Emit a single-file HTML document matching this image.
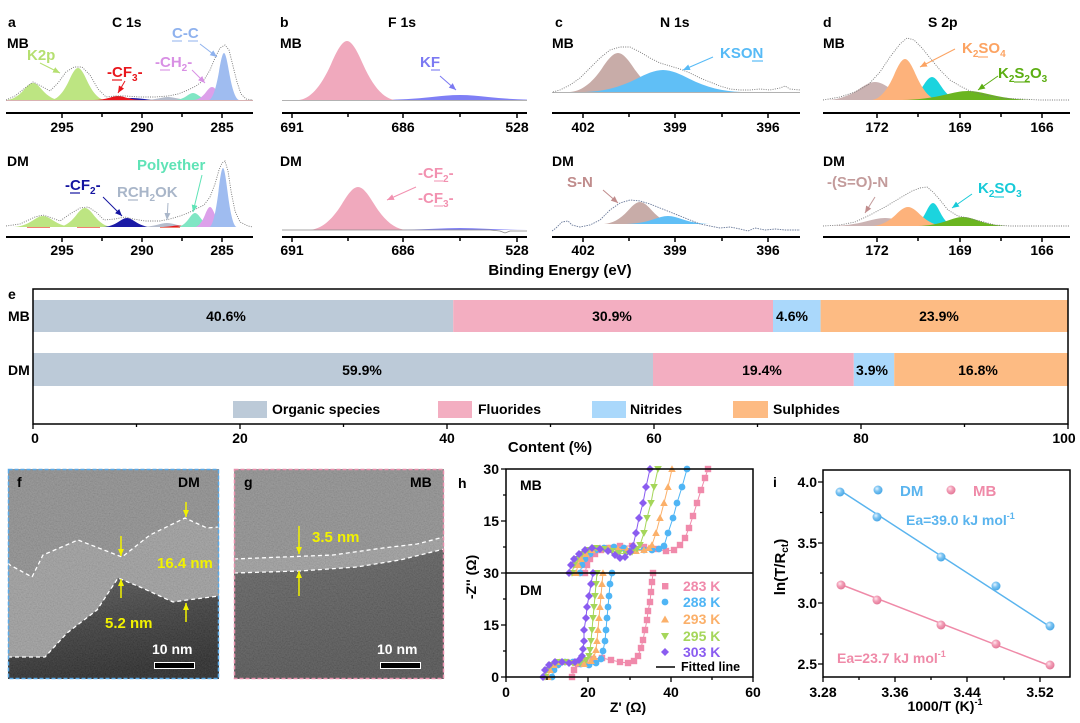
<!DOCTYPE html>
<html><head><meta charset="utf-8"><style>html,body{margin:0;padding:0;background:#fff}svg{display:block}</style></head><body>
<svg xmlns="http://www.w3.org/2000/svg" width="1080" height="723" viewBox="0 0 1080 723" font-family="'Liberation Sans', Arial, sans-serif" font-weight="bold">
<defs>
<path id="g" d="M-3,0 C-2.333,-0.022 -1.667,-0.202 -1,-0.6065 C-0.667,-0.809 -0.333,-1 0,-1 C0.333,-1 0.667,-0.809 1,-0.6065 C1.667,-0.202 2.333,-0.022 3,0 Z"/>
<clipPath id="ca"><rect x="6" y="0" width="247" height="240"/></clipPath>
<clipPath id="cb"><rect x="282" y="0" width="245" height="240"/></clipPath>
<clipPath id="cc"><rect x="552" y="0" width="248" height="240"/></clipPath>
<clipPath id="cd"><rect x="823" y="0" width="247" height="240"/></clipPath>
<clipPath id="cf"><rect x="8" y="469" width="211" height="210"/></clipPath>
<clipPath id="cg"><rect x="234" y="469" width="210" height="210"/></clipPath>
<filter id="nz" x="0" y="0" width="1" height="1"><feTurbulence type="fractalNoise" baseFrequency="0.75" numOctaves="2" seed="7"/><feColorMatrix type="matrix" values="1 0 0 0 0 1 0 0 0 0 1 0 0 0 0 0 0 0 0 0.18"/></filter>
<linearGradient id="darkf" x1="0" y1="0" x2="0.3" y2="1"><stop offset="0" stop-color="#505050"/><stop offset="0.5" stop-color="#333"/><stop offset="1" stop-color="#1e1e1e"/></linearGradient>
<linearGradient id="darkg" x1="0" y1="0" x2="0.4" y2="1"><stop offset="0" stop-color="#5c5c5c"/><stop offset="1" stop-color="#4a4a4a"/></linearGradient>
<radialGradient id="gb" cx="0.38" cy="0.35" r="0.65"><stop offset="0" stop-color="#e6f4ff"/><stop offset="0.45" stop-color="#7cc4f2"/><stop offset="1" stop-color="#4aa8e6"/></radialGradient>
<radialGradient id="gp" cx="0.38" cy="0.35" r="0.65"><stop offset="0" stop-color="#ffe6ee"/><stop offset="0.45" stop-color="#f2a0b8"/><stop offset="1" stop-color="#e47898"/></radialGradient>
<marker id="aK" markerWidth="8" markerHeight="8" refX="7" refY="4" orient="auto" markerUnits="userSpaceOnUse"><path d="M0,1 L7,4 L0,7 Z" fill="#b5df70"/></marker>
<marker id="aR" markerWidth="8" markerHeight="8" refX="7" refY="4" orient="auto" markerUnits="userSpaceOnUse"><path d="M0,1 L7,4 L0,7 Z" fill="#e8161c"/></marker>
<marker id="aP" markerWidth="8" markerHeight="8" refX="7" refY="4" orient="auto" markerUnits="userSpaceOnUse"><path d="M0,1 L7,4 L0,7 Z" fill="#d890e4"/></marker>
<marker id="aB" markerWidth="8" markerHeight="8" refX="7" refY="4" orient="auto" markerUnits="userSpaceOnUse"><path d="M0,1 L7,4 L0,7 Z" fill="#8fb2ee"/></marker>
<marker id="aN" markerWidth="8" markerHeight="8" refX="7" refY="4" orient="auto" markerUnits="userSpaceOnUse"><path d="M0,1 L7,4 L0,7 Z" fill="#1414a0"/></marker>
<marker id="aGr" markerWidth="8" markerHeight="8" refX="7" refY="4" orient="auto" markerUnits="userSpaceOnUse"><path d="M0,1 L7,4 L0,7 Z" fill="#a9b6c9"/></marker>
<marker id="aT" markerWidth="8" markerHeight="8" refX="7" refY="4" orient="auto" markerUnits="userSpaceOnUse"><path d="M0,1 L7,4 L0,7 Z" fill="#5fe3b6"/></marker>
<marker id="aV" markerWidth="8" markerHeight="8" refX="7" refY="4" orient="auto" markerUnits="userSpaceOnUse"><path d="M0,1 L7,4 L0,7 Z" fill="#7b79f2"/></marker>
<marker id="aPk" markerWidth="8" markerHeight="8" refX="7" refY="4" orient="auto" markerUnits="userSpaceOnUse"><path d="M0,1 L7,4 L0,7 Z" fill="#f291b0"/></marker>
<marker id="aS" markerWidth="8" markerHeight="8" refX="7" refY="4" orient="auto" markerUnits="userSpaceOnUse"><path d="M0,1 L7,4 L0,7 Z" fill="#56baf6"/></marker>
<marker id="aBr" markerWidth="8" markerHeight="8" refX="7" refY="4" orient="auto" markerUnits="userSpaceOnUse"><path d="M0,1 L7,4 L0,7 Z" fill="#c08c8c"/></marker>
<marker id="aO" markerWidth="8" markerHeight="8" refX="7" refY="4" orient="auto" markerUnits="userSpaceOnUse"><path d="M0,1 L7,4 L0,7 Z" fill="#fca362"/></marker>
<marker id="aGn" markerWidth="8" markerHeight="8" refX="7" refY="4" orient="auto" markerUnits="userSpaceOnUse"><path d="M0,1 L7,4 L0,7 Z" fill="#5cae12"/></marker>
<marker id="aC" markerWidth="8" markerHeight="8" refX="7" refY="4" orient="auto" markerUnits="userSpaceOnUse"><path d="M0,1 L7,4 L0,7 Z" fill="#17cad8"/></marker>
<marker id="aY" markerWidth="8" markerHeight="8" refX="7" refY="4" orient="auto" markerUnits="userSpaceOnUse"><path d="M0,1 L7,4 L0,7 Z" fill="#f2f200"/></marker>
<marker id="ms" markerWidth="8" markerHeight="8" refX="4" refY="4" markerUnits="userSpaceOnUse"><rect x="0.8" y="0.8" width="6.4" height="6.4" fill="#f08aab"/></marker>
<marker id="mc" markerWidth="8" markerHeight="8" refX="4" refY="4" markerUnits="userSpaceOnUse"><circle cx="4" cy="4" r="3.4" fill="#4fb5f5"/></marker>
<marker id="mt" markerWidth="8" markerHeight="8" refX="4" refY="4" markerUnits="userSpaceOnUse"><polygon points="4,0.3 7.8,7 0.2,7" fill="#fbb06a"/></marker>
<marker id="md" markerWidth="8" markerHeight="8" refX="4" refY="4" markerUnits="userSpaceOnUse"><polygon points="0.2,1 7.8,1 4,7.7" fill="#a5d65a"/></marker>
<marker id="mdi" markerWidth="8" markerHeight="8" refX="4" refY="4" markerUnits="userSpaceOnUse"><polygon points="4,0 8,4 4,8 0,4" fill="#8a5cf0"/></marker>
</defs>
<rect width="1080" height="723" fill="#fff"/>

<!-- ===== Panel a ===== -->
<g clip-path="url(#ca)">
<use href="#g" transform="translate(33,100) scale(9,17)" fill="#bde582"/>
<use href="#g" transform="translate(78,100) scale(9,32)" fill="#bde582"/>
<use href="#g" transform="translate(132,100) scale(10,2)" fill="#1a1aa6"/>
<use href="#g" transform="translate(118,100) scale(8,4)" fill="#e8161c"/>
<use href="#g" transform="translate(168,100) scale(8,3)" fill="#b4bccc"/>
<use href="#g" transform="translate(193,100) scale(6,7)" fill="#80e6c4"/>
<use href="#g" transform="translate(212,100) scale(6,13)" fill="#dca0ea"/>
<use href="#g" transform="translate(224,100) scale(5,47)" fill="#9fbcf0"/>
<line x1="6" y1="100.5" x2="253" y2="100.5" stroke="#c99" stroke-width="0.8"/>
<polyline points="6,100 15,96 25,88 33,82 41,86 50,91 58,83 66,72 74,67 82,67 90,75 98,89 106,97 115,96 125,96 140,97 155,97 168,96 178,94 188,90 196,86 204,80 210,70 215,58 220,48 225,45 229,50 233,66 237,82 241,94 246,99 253,100" fill="none" stroke="#777" stroke-width="0.9" stroke-dasharray="1 1.3"/>

<use href="#g" transform="translate(43,227) scale(10,11)" fill="#bde582"/>
<use href="#g" transform="translate(85,227) scale(9,19)" fill="#bde582"/>
<use href="#g" transform="translate(127,227) scale(8,9)" fill="#1a1aa6"/>
<use href="#g" transform="translate(167,227) scale(9,4)" fill="#b4bccc"/>
<use href="#g" transform="translate(178,227) scale(6,1.5)" fill="#e8161c"/>
<use href="#g" transform="translate(195,227) scale(6,14)" fill="#80e6c4"/>
<use href="#g" transform="translate(210,227) scale(5,20)" fill="#dca0ea"/>
<use href="#g" transform="translate(223,227) scale(4.5,59)" fill="#9fbcf0"/>
<path d="M27,227.5H50M77,227.5H100M160,227.5H180" stroke="#f08070" stroke-width="1"/>
<polyline points="6,226 20,224 35,217 43,215 52,218 60,221 70,214 80,208 88,207 96,212 104,220 115,219 125,217 133,219 145,221 160,221 170,219 180,216 188,213 196,209 204,205 210,197 215,184 219,170 222,163 225,161 228,171 231,191 235,211 240,222 248,226 253,227" fill="none" stroke="#777" stroke-width="0.9" stroke-dasharray="1 1.3"/>
</g>
<text x="8" y="27" font-size="14">a</text>
<text x="112" y="27" font-size="14">C 1s</text>
<text x="7" y="48" font-size="14">MB</text>
<text x="7" y="166" font-size="14">DM</text>
<line x1="6" y1="113" x2="253" y2="113" stroke="#000" stroke-width="2"/>
<path d="M62,113v5M102,113v4M142,113v5M182,113v4M222,113v5" stroke="#000" stroke-width="1.5"/>
<line x1="6" y1="237" x2="253" y2="237" stroke="#000" stroke-width="2"/>
<path d="M62,237v5M102,237v4M142,237v5M182,237v4M222,237v5" stroke="#000" stroke-width="1.5"/>
<g font-size="14" text-anchor="middle"><text x="62" y="132">295</text><text x="142" y="132">290</text><text x="222" y="132">285</text>
<text x="62" y="255">295</text><text x="142" y="255">290</text><text x="222" y="255">285</text></g>
<!-- labels a -->
<text x="27" y="60" font-size="15" fill="#b5df70">K2p</text>
<line x1="40" y1="63" x2="60" y2="73" stroke="#b5df70" stroke-width="1" marker-end="url(#aK)"/>
<text x="107" y="77" font-size="15" fill="#e8161c">-CF<tspan font-size="10" dy="4">3</tspan><tspan dy="-4">-</tspan></text>
<line x1="112" y1="80" x2="122" y2="80" stroke="#e8161c" stroke-width="1.2"/>
<line x1="125" y1="81" x2="118" y2="93" stroke="#e8161c" stroke-width="1" marker-end="url(#aR)"/>
<text x="155" y="67" font-size="15" fill="#d890e4">-CH<tspan font-size="10" dy="4">2</tspan><tspan dy="-4">-</tspan></text>
<line x1="160" y1="70" x2="170" y2="70" stroke="#d890e4" stroke-width="1.1"/>
<line x1="192" y1="70" x2="205" y2="83" stroke="#d890e4" stroke-width="1" marker-end="url(#aP)"/>
<text x="172" y="38" font-size="15" fill="#8fb2ee">C-C</text>
<path d="M172,41H182M188,41H198" stroke="#8fb2ee" stroke-width="1.1"/>
<line x1="200" y1="44" x2="217" y2="57" stroke="#8fb2ee" stroke-width="1" marker-end="url(#aB)"/>
<text x="65" y="190" font-size="15" fill="#1414a0">-CF<tspan font-size="10" dy="4">2</tspan><tspan dy="-4">-</tspan></text>
<line x1="70" y1="193" x2="80" y2="193" stroke="#1414a0" stroke-width="1.2"/>
<line x1="103" y1="197" x2="122" y2="216" stroke="#1414a0" stroke-width="1" marker-end="url(#aN)"/>
<text x="117" y="197" font-size="15" fill="#a9b6c9">RCH<tspan font-size="10" dy="4">2</tspan><tspan dy="-4">OK</tspan></text>
<line x1="128" y1="200" x2="138" y2="200" stroke="#a9b6c9" stroke-width="1.2"/>
<line x1="168" y1="203" x2="167" y2="220" stroke="#a9b6c9" stroke-width="1" marker-end="url(#aGr)"/>
<text x="137" y="170" font-size="15" fill="#5fe3b6">Polyether</text>
<line x1="202" y1="175" x2="193" y2="212" stroke="#5fe3b6" stroke-width="1" marker-end="url(#aT)"/>

<!-- ===== Panel b ===== -->
<g clip-path="url(#cb)">
<use href="#g" transform="translate(460,100) scale(28,5)" fill="#7f7ff5"/>
<use href="#g" transform="translate(347,100) scale(16,59)" fill="#f0a9bd"/>
<line x1="282" y1="100.5" x2="527" y2="100.5" stroke="#999" stroke-width="0.8"/>
<use href="#g" transform="translate(460,230) scale(25,2)" fill="#7f7ff5"/>
<use href="#g" transform="translate(358,230) scale(16,43)" fill="#f0a9bd"/>
<polyline points="282,230 490,230 500,231 505,233 510,231 527,231" fill="none" stroke="#888" stroke-width="0.8"/>
</g>
<text x="280" y="27" font-size="14">b</text>
<text x="388" y="27" font-size="14">F 1s</text>
<text x="280" y="48" font-size="14">MB</text>
<text x="280" y="166" font-size="14">DM</text>
<line x1="282" y1="113" x2="527" y2="113" stroke="#000" stroke-width="2"/>
<path d="M292,113v5M348,113v4M403,113v5M460,113v4M517,113v5" stroke="#000" stroke-width="1.5"/>
<line x1="282" y1="237" x2="527" y2="237" stroke="#000" stroke-width="2"/>
<path d="M292,237v5M348,237v4M403,237v5M460,237v4M517,237v5" stroke="#000" stroke-width="1.5"/>
<g font-size="14" text-anchor="middle"><text x="292" y="132">691</text><text x="403" y="132">686</text><text x="517" y="132">528</text>
<text x="292" y="255">691</text><text x="403" y="255">686</text><text x="517" y="255">528</text></g>
<text x="420" y="67" font-size="15" fill="#7b79f2">KF</text>
<line x1="431" y1="70" x2="440" y2="70" stroke="#7b79f2" stroke-width="1.1"/>
<line x1="440" y1="76" x2="456" y2="90" stroke="#7b79f2" stroke-width="1" marker-end="url(#aV)"/>
<text x="418" y="178" font-size="15" fill="#f291b0">-CF<tspan font-size="10" dy="4">2</tspan><tspan dy="-4">-</tspan></text>
<text x="418" y="203" font-size="15" fill="#f291b0">-CF<tspan font-size="10" dy="4">3</tspan><tspan dy="-4">-</tspan></text>
<path d="M434,181H443M434,206H443" stroke="#f291b0" stroke-width="1.1"/>
<line x1="416" y1="187" x2="387" y2="200" stroke="#f291b0" stroke-width="1" marker-end="url(#aPk)"/>

<!-- ===== Panel c ===== -->
<g clip-path="url(#cc)">
<use href="#g" transform="translate(618,92) scale(16,39)" fill="#c8aca8"/>
<use href="#g" transform="translate(663,92) scale(26,22)" fill="#60bff6"/>
<line x1="552" y1="92.5" x2="800" y2="92.5" stroke="#999" stroke-width="0.8"/>
<polyline points="553,92 560,90 570,85 580,78 590,68 600,58 610,50 620,47 630,47 640,52 650,58 660,63 670,66 680,69 690,73 700,78 710,82 720,86 730,89 740,90 750,90 760,89 770,90 780,88 785,86 790,89 800,90" fill="none" stroke="#777" stroke-width="0.9" stroke-dasharray="1 1.3"/>
<use href="#g" transform="translate(640,224) scale(12,22)" fill="#c8aca8"/>
<use href="#g" transform="translate(668,224) scale(14,8)" fill="#60bff6"/>
<polyline points="552,231 556,228 562,222 568,221 572,225 580,227 590,225 600,220 610,210 620,203 630,200 640,201 650,204 660,208 670,212 680,216 690,220 700,224 710,226 720,228 730,227 740,229 748,231 755,228 765,230 775,229 785,230 800,230" fill="none" stroke="#6a7a9a" stroke-width="0.9" stroke-dasharray="1.5 1"/>
</g>
<text x="555" y="27" font-size="14">c</text>
<text x="660" y="27" font-size="14">N 1s</text>
<text x="552" y="48" font-size="14">MB</text>
<text x="552" y="166" font-size="14">DM</text>
<line x1="552" y1="113" x2="800" y2="113" stroke="#000" stroke-width="2"/>
<path d="M583,113v5M629,113v4M675,113v5M722,113v4M768,113v5" stroke="#000" stroke-width="1.5"/>
<line x1="552" y1="237" x2="800" y2="237" stroke="#000" stroke-width="2"/>
<path d="M583,237v5M629,237v4M675,237v5M722,237v4M768,237v5" stroke="#000" stroke-width="1.5"/>
<g font-size="14" text-anchor="middle"><text x="583" y="132">402</text><text x="675" y="132">399</text><text x="768" y="132">396</text>
<text x="583" y="255">402</text><text x="675" y="255">399</text><text x="768" y="255">396</text></g>
<text x="720" y="58" font-size="15" fill="#56baf6">KSON</text>
<line x1="752" y1="61" x2="763" y2="61" stroke="#56baf6" stroke-width="1.2"/>
<line x1="713" y1="57" x2="683" y2="70" stroke="#56baf6" stroke-width="1" marker-end="url(#aS)"/>
<text x="567" y="187" font-size="15" fill="#c08c8c">S-N</text>
<line x1="603" y1="190" x2="618" y2="203" stroke="#c08c8c" stroke-width="1" marker-end="url(#aBr)"/>

<!-- ===== Panel d ===== -->
<g clip-path="url(#cd)">
<use href="#g" transform="translate(875,100) scale(16,18)" fill="#cbb3b3"/>
<use href="#g" transform="translate(932,100) scale(9,23)" fill="#1bd4de"/>
<use href="#g" transform="translate(905,100) scale(11,41)" fill="#fdb27b"/>
<use href="#g" transform="translate(968,100) scale(22,9)" fill="#6ab520"/>
<polyline points="823,100 840,97 855,92 868,85 880,72 890,57 900,44 907,38 914,40 922,48 930,58 940,70 950,80 960,86 970,91 985,95 1000,98 1020,99 1040,100 1070,100" fill="none" stroke="#777" stroke-width="0.9" stroke-dasharray="1 1.3"/>
<use href="#g" transform="translate(885,226) scale(18,8)" fill="#cbb3b3"/>
<use href="#g" transform="translate(933,226) scale(7,23)" fill="#1bd4de"/>
<use href="#g" transform="translate(908,226) scale(12,19)" fill="#fdb27b"/>
<use href="#g" transform="translate(963,226) scale(15,9)" fill="#6ab520"/>
<polyline points="823,226 840,225 855,222 870,215 885,207 900,198 912,191 920,188 927,187 933,192 940,200 948,210 958,216 968,218 980,221 995,225 1010,226 1040,226 1070,226" fill="none" stroke="#777" stroke-width="0.9" stroke-dasharray="1 1.3"/>
</g>
<text x="823" y="27" font-size="14">d</text>
<text x="928" y="27" font-size="14">S 2p</text>
<text x="823" y="48" font-size="14">MB</text>
<text x="823" y="166" font-size="14">DM</text>
<line x1="823" y1="113" x2="1070" y2="113" stroke="#000" stroke-width="2"/>
<path d="M877,113v5M918,113v4M960,113v5M1001,113v4M1042,113v5" stroke="#000" stroke-width="1.5"/>
<line x1="823" y1="237" x2="1070" y2="237" stroke="#000" stroke-width="2"/>
<path d="M877,237v5M918,237v4M960,237v5M1001,237v4M1042,237v5" stroke="#000" stroke-width="1.5"/>
<g font-size="14" text-anchor="middle"><text x="877" y="132">172</text><text x="960" y="132">169</text><text x="1042" y="132">166</text>
<text x="877" y="255">172</text><text x="960" y="255">169</text><text x="1042" y="255">166</text></g>
<text x="962" y="53" font-size="15" fill="#fca362">K<tspan font-size="10" dy="4">2</tspan><tspan dy="-4">SO</tspan><tspan font-size="10" dy="4">4</tspan></text>
<line x1="978" y1="57" x2="988" y2="57" stroke="#fca362" stroke-width="1.1"/>
<line x1="955" y1="49" x2="920" y2="67" stroke="#fca362" stroke-width="1" marker-end="url(#aO)"/>
<text x="998" y="78" font-size="15" fill="#5cae12">K<tspan font-size="10" dy="4">2</tspan><tspan dy="-4">S</tspan><tspan font-size="10" dy="4">2</tspan><tspan dy="-4">O</tspan><tspan font-size="10" dy="4">3</tspan></text>
<line x1="1014" y1="82" x2="1030" y2="82" stroke="#5cae12" stroke-width="1.1"/>
<line x1="998" y1="76" x2="978" y2="90" stroke="#5cae12" stroke-width="1" marker-end="url(#aGn)"/>
<text x="827" y="187" font-size="15" fill="#c39b9b">-(S=O)-N</text>
<line x1="875" y1="197" x2="865" y2="213" stroke="#c39b9b" stroke-width="1" marker-end="url(#aBr)"/>
<text x="978" y="193" font-size="15" fill="#17cad8">K<tspan font-size="10" dy="4">2</tspan><tspan dy="-4">SO</tspan><tspan font-size="10" dy="4">3</tspan></text>
<line x1="994" y1="197" x2="1004" y2="197" stroke="#17cad8" stroke-width="1.1"/>
<line x1="972" y1="194" x2="952" y2="208" stroke="#17cad8" stroke-width="1" marker-end="url(#aC)"/>

<text x="560" y="275" font-size="15" text-anchor="middle">Binding Energy (eV)</text>

<!-- ===== Panel e ===== -->
<text x="8" y="299" font-size="14">e</text>
<text x="8" y="321" font-size="14">MB</text>
<text x="8" y="375" font-size="14">DM</text>
<rect x="33" y="300" width="420.2" height="32" fill="#bccad8"/>
<rect x="453.2" y="300" width="319.8" height="32" fill="#f3aec1"/>
<rect x="773" y="300" width="47.6" height="32" fill="#aad8fb"/>
<rect x="820.6" y="300" width="247.4" height="32" fill="#fdbb83"/>
<rect x="33" y="353" width="620" height="33" fill="#bccad8"/>
<rect x="653" y="353" width="200.8" height="33" fill="#f3aec1"/>
<rect x="853.8" y="353" width="40.4" height="33" fill="#aad8fb"/>
<rect x="894.2" y="353" width="173.8" height="33" fill="#fdbb83"/>
<g font-size="14" text-anchor="middle">
<text x="226" y="321">40.6%</text><text x="612" y="321">30.9%</text><text x="792" y="321">4.6%</text><text x="939" y="321">23.9%</text>
<text x="362" y="375">59.9%</text><text x="762" y="375">19.4%</text><text x="872" y="375">3.9%</text><text x="978" y="375">16.8%</text>
</g>
<rect x="233" y="401" width="34" height="17" fill="#bccad8"/>
<rect x="438" y="401" width="34" height="17" fill="#f3aec1"/>
<rect x="592" y="401" width="34" height="17" fill="#aad8fb"/>
<rect x="733" y="401" width="35" height="17" fill="#fdbb83"/>
<g font-size="14"><text x="272" y="414">Organic species</text><text x="478" y="414">Fluorides</text><text x="630" y="414">Nitrides</text><text x="773" y="414">Sulphides</text></g>
<rect x="33" y="289" width="1035" height="135" fill="none" stroke="#000" stroke-width="1.5"/>
<path d="M33,424v5M136.5,424v3M240,424v5M343.5,424v3M447,424v5M550.5,424v3M654,424v5M757.5,424v3M861,424v5M964.5,424v3M1068,424v5" stroke="#000" stroke-width="1.3"/>
<g font-size="14" text-anchor="middle"><text x="35" y="443">0</text><text x="240" y="443">20</text><text x="447" y="443">40</text><text x="654" y="443">60</text><text x="861" y="443">80</text><text x="1064" y="443">100</text></g>
<text x="550" y="452" font-size="15" text-anchor="middle">Content (%)</text>

<!-- ===== Panel f ===== -->
<g clip-path="url(#cf)">
<rect x="8" y="469" width="211" height="210" fill="#8a8a8a"/>
<polygon points="8,563 10,565 32,577 43,555 78,540 122,557 150,535 185,518 207,528 219,527 219,596 187,600 173,602 140,587 118,578 97,610 67,633 45,657 8,657" fill="#9a9a9a"/>
<polygon points="8,657 45,657 67,633 97,610 118,578 140,587 173,602 187,600 219,596 219,679 8,679" fill="url(#darkf)"/>
<rect x="8" y="469" width="211" height="210" filter="url(#nz)"/>
<polyline points="8,563 10,565 32,577 43,555 78,540 122,557 150,535 185,518 207,528 219,527" fill="none" stroke="#fff" stroke-width="1.3" stroke-dasharray="4 3"/>
<polyline points="8,657 45,657 67,633 97,610 118,578 140,587 173,602 187,600 219,596" fill="none" stroke="#fff" stroke-width="1.3" stroke-dasharray="4 3"/>
</g>
<rect x="8.5" y="469.5" width="210" height="209" fill="none" stroke="#5aaae8" stroke-width="1.5" stroke-dasharray="4 2"/>
<text x="17" y="487" font-size="14">f</text>
<text x="178" y="487" font-size="14">DM</text>
<g stroke="#f2f200" stroke-width="1.5">
<line x1="186" y1="502" x2="186" y2="517" marker-end="url(#aY)"/>
<line x1="121" y1="536" x2="121" y2="556" marker-end="url(#aY)"/>
<line x1="121" y1="598" x2="121" y2="579" marker-end="url(#aY)"/>
<line x1="186" y1="622" x2="186" y2="603" marker-end="url(#aY)"/>
</g>
<text x="157" y="568" font-size="15" fill="#f2f200">16.4 nm</text>
<text x="105" y="628" font-size="15" fill="#f2f200">5.2 nm</text>
<text x="152" y="654" font-size="14" fill="#fff">10 nm</text>
<rect x="154.5" y="662.5" width="40" height="6" fill="#000" stroke="#fff" stroke-width="1"/>

<!-- ===== Panel g ===== -->
<g clip-path="url(#cg)">
<rect x="234" y="469" width="210" height="210" fill="#8b8b8b"/>
<polygon points="234,559 283,557 333,555 383,548 417,544 444,537 444,549 400,560 357,567 300,571 234,573" fill="#9a9a9a"/>
<polygon points="234,573 300,571 357,567 400,560 444,549 444,679 234,679" fill="url(#darkg)"/>
<rect x="234" y="469" width="210" height="210" filter="url(#nz)"/>
<polyline points="234,559 283,557 333,555 383,548 417,544 444,537" fill="none" stroke="#fff" stroke-width="1.3" stroke-dasharray="4 3"/>
<polyline points="234,573 300,571 357,567 400,560 444,549" fill="none" stroke="#fff" stroke-width="1.3" stroke-dasharray="4 3"/>
</g>
<rect x="234.5" y="469.5" width="209" height="209" fill="none" stroke="#e88fac" stroke-width="1.5" stroke-dasharray="4 2"/>
<text x="244" y="487" font-size="14">g</text>
<text x="410" y="487" font-size="14">MB</text>
<g stroke="#f2f200" stroke-width="1.5">
<line x1="299" y1="526" x2="299" y2="554" marker-end="url(#aY)"/>
<line x1="299" y1="596" x2="299" y2="571" marker-end="url(#aY)"/>
</g>
<text x="312" y="542" font-size="15" fill="#f2f200">3.5 nm</text>
<text x="377" y="654" font-size="14" fill="#fff">10 nm</text>
<rect x="380.5" y="662.5" width="40" height="6" fill="#000" stroke="#fff" stroke-width="1"/>

<!-- ===== Panel h ===== -->
<text x="458" y="488" font-size="14">h</text>
<g fill="none" stroke-width="1">
<polyline stroke="#f08aab" marker-start="url(#ms)" marker-mid="url(#ms)" marker-end="url(#ms)" points="585,573 587,565 590,559 595,554 601,550 609,548 620,546 632,546 644,547 656,549 666,551 674,550 680,545 685,538 689,528 693,516 697,503 701,490 705,478 708,469"/>
<polyline stroke="#4fb5f5" marker-start="url(#mc)" marker-mid="url(#mc)" marker-end="url(#mc)" points="580,573 582,565 585,559 590,554 596,550 604,548 614,547 624,548 634,549 644,550 652,550 659,549 664,546 668,533 673,518 677,503 682,487 687,469"/>
<polyline stroke="#fbb06a" marker-start="url(#mt)" marker-mid="url(#mt)" marker-end="url(#mt)" points="576,573 578,565 581,559 586,554 592,550 600,548 609,548 618,549 627,550 636,551 644,550 649,548 652,545 656,533 660,518 664,503 668,487 672,469"/>
<polyline stroke="#a5d65a" marker-start="url(#md)" marker-mid="url(#md)" marker-end="url(#md)" points="572,573 574,565 577,559 582,554 588,550 596,548 604,549 612,551 619,553 626,554 632,552 637,549 640,545 644,533 647,518 651,503 654,487 658,469"/>
<polyline stroke="#8a5cf0" marker-start="url(#mdi)" marker-mid="url(#mdi)" marker-end="url(#mdi)" points="569,573 571,565 574,559 579,554 585,550 592,548 600,549 608,551 615,555 620,558 625,557 630,552 633,546 636,533 639,518 643,503 646,487 650,469"/>

<polyline stroke="#f08aab" marker-start="url(#ms)" marker-mid="url(#ms)" marker-end="url(#ms)" points="572,677 574,670 578,664 585,661 593,659 602,658 611,660 620,662 628,663 634,661 638,656 641,648 643,640 645,630 647,620 648,611 650,602 651,592 652,582 653,573"/>
<polyline stroke="#4fb5f5" marker-start="url(#mc)" marker-mid="url(#mc)" marker-end="url(#mc)" points="552,677 554,670 558,665 565,662 573,662 581,664 589,665 596,663 601,659 603,651 605,641 606,630 607,618 608,607 609,596 610,584 612,573"/>
<polyline stroke="#fbb06a" marker-start="url(#mt)" marker-mid="url(#mt)" marker-end="url(#mt)" points="548,677 550,670 554,665 560,662 568,662 576,663 584,664 591,661 594,657 596,650 597,641 598,630 599,618 600,607 601,596 602,584 603,573"/>
<polyline stroke="#a5d65a" marker-start="url(#md)" marker-mid="url(#md)" marker-end="url(#md)" points="545,677 547,670 551,665 557,662 565,662 573,663 580,663 586,660 589,656 590,650 591,641 592,630 593,618 594,607 595,596 596,584 597,573"/>
<polyline stroke="#8a5cf0" marker-start="url(#mdi)" marker-mid="url(#mdi)" marker-end="url(#mdi)" points="543,677 545,670 549,665 555,662 562,662 569,663 575,662 579,660 582,656 583,649 584,641 584,630 586,618 587,607 589,596 591,584 593,573"/>
</g>
<rect x="506" y="469" width="247" height="208" fill="none" stroke="#000" stroke-width="1.5"/>
<line x1="506" y1="573" x2="753" y2="573" stroke="#000" stroke-width="1.5"/>
<path d="M506,469h-5M506,495h-3M506,521h-5M506,547h-3M506,573h-5M506,599h-3M506,625h-5M506,651h-3M506,677h-5M506,677v5M547,677v3M588,677v5M630,677v3M671,677v5M712,677v3M753,677v5" stroke="#000" stroke-width="1.3"/>
<g font-size="14" text-anchor="end"><text x="499" y="474">30</text><text x="499" y="526">15</text><text x="499" y="578">30</text><text x="499" y="630">15</text><text x="499" y="682">0</text></g>
<g font-size="14" text-anchor="middle"><text x="506" y="697">0</text><text x="588" y="697">20</text><text x="671" y="697">40</text><text x="753" y="697">60</text></g>
<text x="520" y="490" font-size="14">MB</text>
<text x="520" y="595" font-size="14">DM</text>
<text transform="translate(476,577) rotate(-90)" font-size="14" text-anchor="middle">-Z'' (Ω)</text>
<text x="628" y="712" font-size="14" text-anchor="middle">Z' (Ω)</text>
<rect x="662" y="583" width="6.4" height="6.4" fill="#f08aab"/>
<circle cx="665" cy="602" r="3.4" fill="#4fb5f5"/>
<polygon points="665,615.5 669,622.5 661,622.5" fill="#fbb06a"/>
<polygon points="661,633 669,633 665,640" fill="#a5d65a"/>
<polygon points="665,648 669,652 665,656 661,652" fill="#8a5cf0"/>
<line x1="656" y1="667" x2="675" y2="667" stroke="#000" stroke-width="1.5"/>
<g font-size="14"><text x="683" y="591" fill="#f08aab">283 K</text><text x="683" y="607" fill="#4fb5f5">288 K</text><text x="683" y="624" fill="#fbb06a">293 K</text><text x="683" y="641" fill="#a5d65a">295 K</text><text x="683" y="657" fill="#8a5cf0">303 K</text></g>
<text x="681" y="671" font-size="12.5">Fitted line</text>

<!-- ===== Panel i ===== -->
<text x="773" y="487" font-size="14">i</text>
<rect x="823" y="470" width="247" height="207" fill="none" stroke="#000" stroke-width="1.5"/>
<path d="M823,482h-5M823,512.5h-3M823,543h-5M823,573h-3M823,603h-5M823,634h-3M823,664h-5M823,677v5M859,677v3M895,677v5M931,677v3M967,677v5M1004,677v3M1040,677v5" stroke="#000" stroke-width="1.3"/>
<g font-size="14" text-anchor="end"><text x="817" y="487">4.0</text><text x="817" y="548">3.5</text><text x="817" y="608">3.0</text><text x="817" y="669">2.5</text></g>
<g font-size="14" text-anchor="middle"><text x="823" y="697">3.28</text><text x="895" y="697">3.36</text><text x="967" y="697">3.44</text><text x="1040" y="697">3.52</text></g>
<line x1="838" y1="489" x2="1052" y2="628" stroke="#5ab4ee" stroke-width="1.5"/>
<line x1="837" y1="583" x2="1053" y2="667" stroke="#ef8aa8" stroke-width="1.5"/>
<g fill="url(#gb)"><circle cx="840" cy="492" r="4.5"/><circle cx="877" cy="517" r="4.5"/><circle cx="941" cy="557" r="4.5"/><circle cx="996" cy="586" r="4.5"/><circle cx="1050" cy="626" r="4.5"/><circle cx="878" cy="490" r="4.5"/></g>
<g fill="url(#gp)"><circle cx="841" cy="585" r="4.5"/><circle cx="877" cy="600" r="4.5"/><circle cx="941" cy="625" r="4.5"/><circle cx="996" cy="644" r="4.5"/><circle cx="1050" cy="665" r="4.5"/><circle cx="951" cy="490" r="4.5"/></g>
<text x="900" y="496" font-size="15" fill="#5ab4ee">DM</text>
<text x="973" y="496" font-size="15" fill="#ef8aa8">MB</text>
<text x="906" y="525" font-size="14" fill="#5ab4ee">Ea=39.0 kJ mol<tspan font-size="9" dy="-6">-1</tspan></text>
<text x="837" y="663" font-size="14" fill="#ef8aa8">Ea=23.7 kJ mol<tspan font-size="9" dy="-6">-1</tspan></text>
<text transform="translate(785,567) rotate(-90)" font-size="15" text-anchor="middle">ln(T/R<tspan font-size="10" dy="3">ct</tspan><tspan dy="-3">)</tspan></text>
<text x="945" y="711" font-size="14" text-anchor="middle">1000/T (K)<tspan font-size="9" dy="-6">-1</tspan></text>
</svg>
</body></html>
